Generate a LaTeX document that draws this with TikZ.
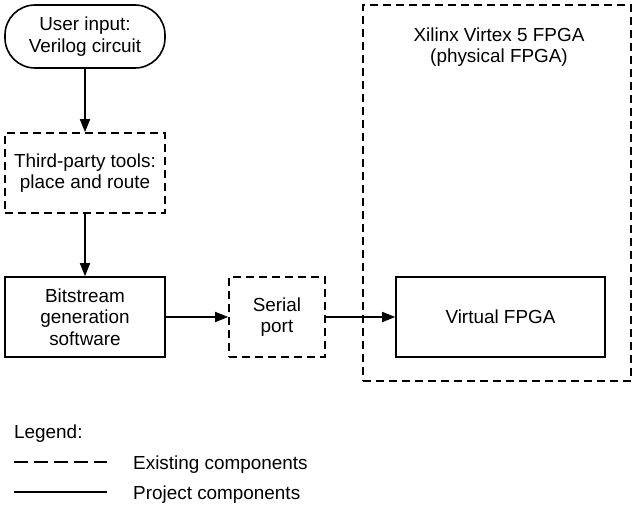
\documentclass[tikz,border=0pt]{standalone}
\usepackage{fontspec}
\setmainfont{Liberation Sans}
\usetikzlibrary{arrows.meta}
\begin{document}
\begin{tikzpicture}[x=1pt,y=-1pt,
  every node/.style={font=\fontsize{18.9}{21.5}\selectfont, align=center, inner sep=0pt},
  box/.style={draw, line width=1.6pt, minimum width=160pt, minimum height=80pt},
  exist/.style={dash pattern=on 8pt off 5pt},
  conn/.style={line width=1.6pt, -{Triangle[length=13pt,width=10pt]}}]
\useasboundingbox (0,0) rectangle (635,508);
\node[box, rounded corners=30pt, minimum height=63pt] (user) at (85,36.5) {User input:\\Verilog circuit};
\node[box, exist] (tools) at (85,173) {Third-party tools:\\place and route};
\node[box] (bits) at (85,317) {Bitstream\\generation\\software};
\node[box, exist, minimum width=96pt] (serial) at (277,317) {Serial\\port};
\node[box, minimum width=209pt] (virt) at (500.5,317) {Virtual FPGA};
\node[draw, line width=1.6pt, exist, minimum width=268pt, minimum height=376pt] (xil) at (497,193) {};
\node (xiltxt) at (499,47) {Xilinx Virtex 5 FPGA\\(physical FPGA)};
\draw[conn] (user) -- (tools);
\draw[conn] (tools) -- (bits);
\draw[conn] (bits) -- (serial);
\draw[conn] (serial) -- (virt);
\node[anchor=base west] (leg) at (14,438) {Legend:};
\coordinate (d1) at (14,462);
\coordinate (d2) at (107,462);
\coordinate (s1) at (14,492);
\coordinate (s2) at (107,492);
\draw[line width=1.6pt, dash pattern=on 14pt off 6pt] (d1) -- (d2);
\draw[line width=1.6pt] (s1) -- (s2);
\node[anchor=base west] (ex) at (133,469) {Existing components};
\node[anchor=base west] (pr) at (133,499) {Project components};
\end{tikzpicture}
\end{document}
